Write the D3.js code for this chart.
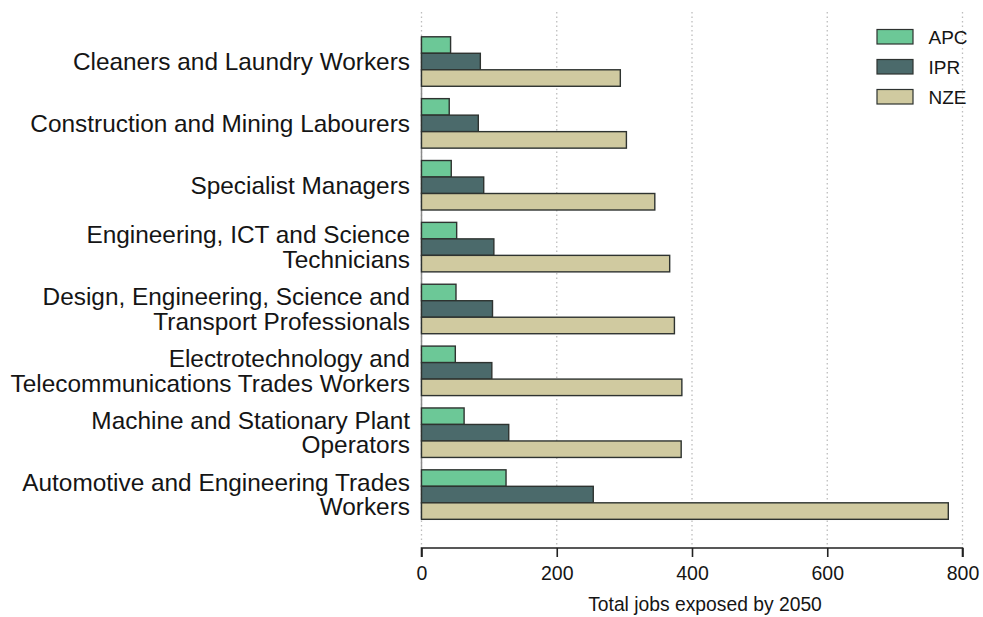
<!DOCTYPE html>
<html>
<head>
<meta charset="utf-8">
<script src="https://cdn.jsdelivr.net/npm/d3@7/dist/d3.min.js"></script>
<style>
  html, body { margin: 0; padding: 0; background: #ffffff; }
  svg { display: block; font-family: "Liberation Sans", Arial, Helvetica, sans-serif; }
</style>
</head>
<body>
<svg id="chart" width="983" height="617"></svg>
<script>
// Occupation groups (top to bottom), each label split into display lines
const categories = [
  ["Cleaners and Laundry Workers"],
  ["Construction and Mining Labourers"],
  ["Specialist Managers"],
  ["Engineering, ICT and Science", "Technicians"],
  ["Design, Engineering, Science and", "Transport Professionals"],
  ["Electrotechnology and", "Telecommunications Trades Workers"],
  ["Machine and Stationary Plant", "Operators"],
  ["Automotive and Engineering Trades", "Workers"]
];

const seriesNames = ["APC", "IPR", "NZE"];
const apcValues = [43, 41, 44, 52, 51, 50, 63, 125];
const iprValues = [87, 84, 92, 107, 105, 104, 129, 254];
const nzeValues = [294, 303, 345, 367, 374, 385, 384, 779];
const xTicks = [0, 200, 400, 600, 800];
const xTitle = "Total jobs exposed by 2050";

const seriesColors = { APC: "#6cc897", IPR: "#4b6a6b", NZE: "#d0caa0" };
const seriesValues = { APC: apcValues, IPR: iprValues, NZE: nzeValues };

const svg = d3.select("#chart");

const x = d3.scaleLinear().domain([0, 800]).range([421.5, 962.5]);
const catKeys = categories.map((c, i) => i);
const y = d3.scaleBand().domain(catKeys).range([30.6, 525.5])
  .paddingInner(0.2).paddingOuter(0.1);
const ySub = d3.scaleBand().domain(seriesNames).range([0, y.bandwidth()]);

const axisY = 548;
const gridTop = 12;

// Dotted vertical gridlines
svg.append("g").selectAll("line").data(xTicks).join("line")
  .attr("x1", d => x(d)).attr("x2", d => x(d))
  .attr("y1", gridTop).attr("y2", axisY)
  .attr("stroke", "#bdbdbd").attr("stroke-width", 1.3)
  .attr("stroke-dasharray", "1.5,3");

// Baseline along the category range
svg.append("line")
  .attr("x1", x(0)).attr("x2", x(0))
  .attr("y1", y(0)).attr("y2", y(categories.length - 1) + y.bandwidth())
  .attr("stroke", "#8a8a8a").attr("stroke-width", 1.5);

// Bars
const groups = svg.append("g").selectAll("g").data(catKeys).join("g")
  .attr("transform", i => `translate(0,${y(i)})`);

groups.selectAll("rect")
  .data(i => seriesNames.map(s => ({ s, v: seriesValues[s][i] })))
  .join("rect")
  .attr("x", x(0))
  .attr("y", d => ySub(d.s))
  .attr("width", d => x(d.v) - x(0))
  .attr("height", ySub.bandwidth())
  .attr("fill", d => seriesColors[d.s])
  .attr("stroke", "#2e3330")
  .attr("stroke-width", 1.4);

// Category labels
const labelG = svg.append("g");
categories.forEach((lines, i) => {
  const cy = y(i) + y.bandwidth() / 2;
  const lh = 24.5;
  const t = labelG.append("text")
    .attr("x", 410)
    .attr("text-anchor", "end")
    .attr("font-size", 24.4)
    .attr("fill", "#151515");
  lines.forEach((ln, k) => {
    t.append("tspan")
      .attr("x", 410)
      .attr("y", cy + (k - (lines.length - 1) / 2) * lh)
      .attr("dy", "0.35em")
      .text(ln);
  });
});

// X axis
const xAxis = d3.axisBottom(x).tickValues(xTicks).tickSize(9).tickPadding(9)
  .tickFormat(d3.format("d"));
const ax = svg.append("g").attr("transform", `translate(0,${axisY})`).call(xAxis);
ax.select(".domain").attr("stroke", "#222").attr("stroke-width", 1.6)
  .attr("d", `M${x(0)},9V0H${x(800)}V9`);
ax.selectAll(".tick line").attr("stroke", "#222").attr("stroke-width", 1.6);
ax.selectAll(".tick text").attr("font-size", 19.5).attr("fill", "#151515")
  .attr("font-family", "'Liberation Sans', Arial, sans-serif");

svg.append("text")
  .attr("x", 705).attr("y", 604).attr("dy", "0.35em")
  .attr("text-anchor", "middle")
  .attr("font-size", 19.3).attr("fill", "#151515")
  .text(xTitle);

// Legend
const legend = svg.append("g").selectAll("g").data(seriesNames).join("g")
  .attr("transform", (d, i) => `translate(877,${29.5 + i * 30})`);
legend.append("rect")
  .attr("width", 36).attr("height", 14.5)
  .attr("fill", d => seriesColors[d])
  .attr("stroke", "#2e3330").attr("stroke-width", 1.2);
legend.append("text")
  .attr("x", 51.5).attr("y", 7.5).attr("dy", "0.35em")
  .attr("font-size", 19).attr("fill", "#151515")
  .text(d => d);
</script>
</body>
</html>
